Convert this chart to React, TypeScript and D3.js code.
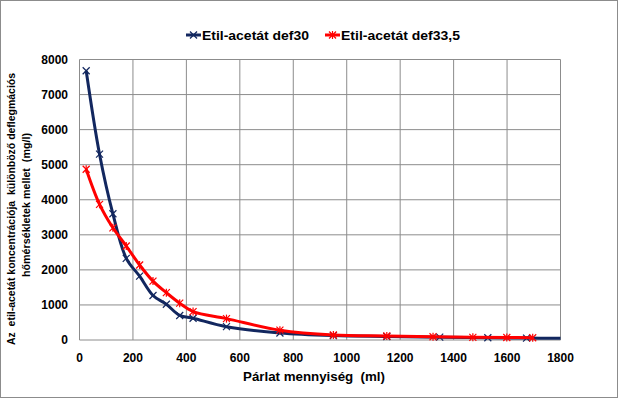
import React from 'react'
import * as d3 from 'd3'

const volume30 = [25, 75, 125, 175, 225, 275, 325, 375, 425, 550, 750, 950, 1150, 1348, 1528, 1673, 1800]
const conc30 = [7680, 5300, 3600, 2330, 1820, 1270, 1020, 700, 620, 380, 200, 125, 100, 80, 65, 55, 50]

const volume335 = [25, 75, 125, 175, 225, 275, 325, 375, 425, 550, 750, 950, 1150, 1323, 1472, 1599, 1696]
const conc335 = [4870, 3870, 3200, 2680, 2140, 1680, 1350, 1050, 810, 610, 280, 142, 115, 92, 75, 70, 65]

const xTicks = [0, 200, 400, 600, 800, 1000, 1200, 1400, 1600, 1800]
const yTicks = [0, 1000, 2000, 3000, 4000, 5000, 6000, 7000, 8000]

const seriesNames = ['Etil-acetát def30', 'Etil-acetát def33,5']
const xTitle = 'Párlat mennyiség  (ml)'
const yTitle1 = 'Az  etil-acetát koncentrációja  különböző deflegmációs'
const yTitle2 = 'hőmérsékletek mellet  (mg/l)'

const W = 618
const H = 398
const left = 79.5
const right = 560.5
const top = 59.5
const bottom = 340

const BLUE = '#12275f'
const RED = '#ff0000'
const GRID = '#8c8c8c'
const FONT = '"Liberation Sans", Arial, sans-serif'

function Cross({ x, y, color }) {
  const s = 3.5
  return (
    <g stroke={color} strokeWidth={1.2}>
      <line x1={x - s} y1={y - s} x2={x + s} y2={y + s} />
      <line x1={x - s} y1={y + s} x2={x + s} y2={y - s} />
    </g>
  )
}

function Star({ x, y, color }) {
  const s = 3.5
  return (
    <g stroke={color} strokeWidth={1.2}>
      <line x1={x - s} y1={y - s} x2={x + s} y2={y + s} />
      <line x1={x - s} y1={y + s} x2={x + s} y2={y - s} />
      <line x1={x} y1={y - s - 0.5} x2={x} y2={y + s + 0.5} />
    </g>
  )
}

export default function App() {
  const x = d3.scaleLinear().domain([0, 1800]).range([left, right])
  const y = d3.scaleLinear().domain([0, 8000]).range([bottom, top])

  const line = d3.line()
    .x(d => x(d[0]))
    .y(d => y(d[1]))
    .curve(d3.curveCatmullRom.alpha(0.5))

  const pts30 = volume30.map((v, i) => [v, conc30[i]])
  const pts335 = volume335.map((v, i) => [v, conc335[i]])

  const titleStyle = { whiteSpace: 'pre' }

  return (
    <div>
      <style>{`body{margin:0}`}</style>
      <svg width={W} height={H} style={{ display: 'block', fontFamily: FONT }}>
        <rect x={0.5} y={0.5} width={W - 1} height={H - 1} fill="#fff" stroke={GRID} />

        {/* grid */}
        {xTicks.map(t => (
          <line key={'gx' + t} x1={x(t)} x2={x(t)} y1={top} y2={bottom} stroke={GRID} strokeWidth={1} />
        ))}
        {yTicks.map(t => (
          <line key={'gy' + t} x1={left} x2={right} y1={y(t)} y2={y(t)} stroke={GRID} strokeWidth={1} />
        ))}

        {/* tick labels */}
        {yTicks.map(t => (
          <text key={'ty' + t} x={68} y={y(t) + 4} textAnchor="end" fontSize={12} fontWeight="bold" fill="#000">{t}</text>
        ))}
        {xTicks.map(t => (
          <text key={'tx' + t} x={x(t)} y={362} textAnchor="middle" fontSize={12} fontWeight="bold" fill="#000">{t}</text>
        ))}

        {/* series */}
        <path d={line(pts30)} fill="none" stroke={BLUE} strokeWidth={3} />
        {pts30.slice(0, -1).map((p, i) => (
          <Cross key={'c' + i} x={x(p[0])} y={y(p[1])} color={BLUE} />
        ))}
        <path d={line(pts335)} fill="none" stroke={RED} strokeWidth={3} />
        {pts335.map((p, i) => (
          <Star key={'s' + i} x={x(p[0])} y={y(p[1])} color={RED} />
        ))}

        {/* titles */}
        <text x={314} y={381} textAnchor="middle" fontSize={12} fontWeight="bold" style={titleStyle} textLength={142} lengthAdjust="spacingAndGlyphs">{xTitle}</text>
        <text transform="translate(15,209) rotate(-90)" textAnchor="middle" fontSize={11.5} fontWeight="bold" style={titleStyle} textLength={272} lengthAdjust="spacingAndGlyphs">{yTitle1}</text>
        <text transform="translate(30,205) rotate(-90)" textAnchor="middle" fontSize={11.5} fontWeight="bold" style={titleStyle} textLength={144} lengthAdjust="spacingAndGlyphs">{yTitle2}</text>

        {/* legend */}
        <line x1={186} x2={201} y1={35} y2={35} stroke={BLUE} strokeWidth={3} />
        <Cross x={193.5} y={35} color={BLUE} />
        <text x={202} y={39.5} fontSize={13} fontWeight="bold" textLength={107} lengthAdjust="spacingAndGlyphs">{seriesNames[0]}</text>
        <line x1={325} x2={340} y1={35} y2={35} stroke={RED} strokeWidth={3} />
        <Star x={332.5} y={35} color={RED} />
        <text x={341} y={39.5} fontSize={13} fontWeight="bold" textLength={119} lengthAdjust="spacingAndGlyphs">{seriesNames[1]}</text>
      </svg>
    </div>
  )
}
